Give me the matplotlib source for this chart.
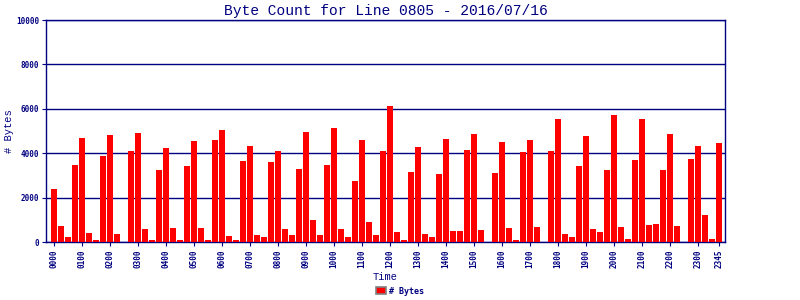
import numpy as np
import matplotlib
matplotlib.use('Agg')
import matplotlib.pyplot as plt
from matplotlib.patches import Patch

# 15-minute slots, 0000 .. 2345
slots = ['%02d%02d' % (h, m) for h in range(24) for m in (0, 15, 30, 45)]
byte_count = [
    2400, 740, 240, 3490, 4710, 420, 105, 3890, 4840, 375, 0, 4120, 4930, 600, 105, 3260,
    4260, 650, 105, 3440, 4570, 650, 105, 4620, 5070, 285, 105, 3670, 4350, 330, 240, 3620,
    4120, 600, 330, 3310, 4980, 1010, 330, 3490, 5160, 600, 240, 2770, 4620, 920, 330, 4120,
    6150, 470, 105, 3170, 4300, 375, 240, 3080, 4660, 510, 510, 4170, 4890, 560, 0, 3130,
    4530, 650, 105, 4080, 4620, 690, 0, 4120, 5560, 375, 240, 3440, 4800, 600, 470, 3260,
    5740, 690, 150, 3710, 5560, 780, 830, 3260, 4890, 740, 0, 3760, 4350, 1230, 150, 4480,
]
tick_slots = [s for s in slots if s.endswith('00')] + ['2345']
y_ticks = [0, 2000, 4000, 6000, 8000, 10000]

navy = '#000080'
plt.rcParams['font.family'] = 'DejaVu Sans Mono'

fig = plt.figure(figsize=(8, 3), dpi=100)
ax = fig.add_axes([0.0575, 0.193, 0.849, 0.74])

x = np.arange(len(slots))
ax.bar(x, byte_count, width=0.86, color='#ff0000', zorder=3)

ax.set_xlim(-1.14, len(slots) + 0.86 - 1)
ax.set_ylim(0, 10000)
ax.set_yticks(y_ticks)
ax.set_yticklabels([str(v) for v in y_ticks], fontsize=5.5, fontweight='bold', color=navy)
ax.set_xticks([slots.index(s) for s in tick_slots])
ax.set_xticklabels(tick_slots, rotation=90, fontsize=5.5, fontweight='bold', color=navy)
ax.tick_params(colors=navy, length=3, width=0.8, pad=2)

ax.yaxis.grid(True, color=navy, linewidth=1.0, zorder=1)
for sp in ax.spines.values():
    sp.set_color(navy)
    sp.set_linewidth(1.0)

ax.set_title('Byte Count for Line 0805 - 2016/07/16', fontsize=10.5, color=navy, pad=4,
             family='Liberation Mono')
ax.set_xlabel('Time', fontsize=7.5, color=navy, labelpad=3, family='Liberation Mono')
ax.set_ylabel('# Bytes', fontsize=7.5, color=navy, family='Liberation Mono')
ax.yaxis.set_label_coords(-0.047, 0.5)

fig.legend(handles=[Patch(facecolor='#ff0000', edgecolor='gray', linewidth=1.2, label='# Bytes')],
           loc='lower center', bbox_to_anchor=(0.5, -0.01), frameon=False,
           prop={'size': 6, 'weight': 'bold'}, labelcolor=navy,
           handlelength=1.2, handleheight=0.9, handletextpad=0.4)

fig.savefig('out.png', dpi=100)
